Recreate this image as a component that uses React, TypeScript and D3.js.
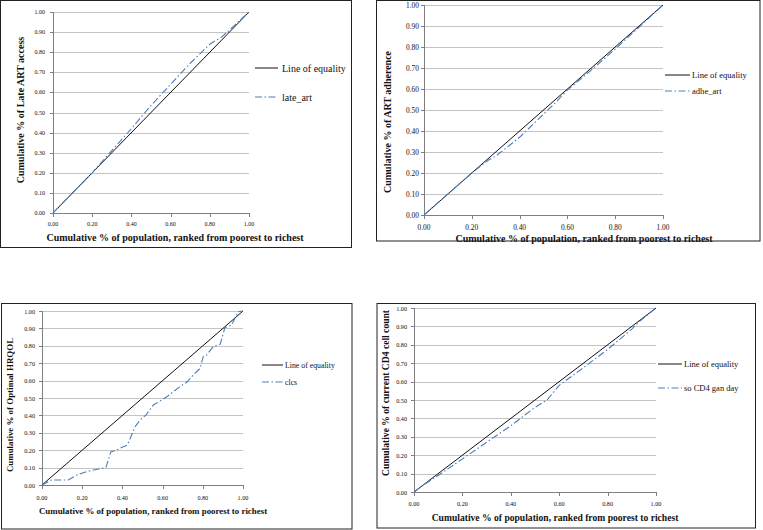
import React from "react";
import * as d3 from "d3";

// ---- Data ----
const xTickValues = [0, 0.2, 0.4, 0.6, 0.8, 1.0];
const yTickValues = [0, 0.1, 0.2, 0.3, 0.4, 0.5, 0.6, 0.7, 0.8, 0.9, 1.0];
const xTickLabels = ["0.00", "0.20", "0.40", "0.60", "0.80", "1.00"];
const yTickLabels = ["0.00", "0.10", "0.20", "0.30", "0.40", "0.50", "0.60", "0.70", "0.80", "0.90", "1.00"];

const equalityX = [0, 1];
const equalityY = [0, 1];

const lateArtX = [0, 0.1, 0.2, 0.3, 0.4, 0.5, 0.6, 0.7, 0.8, 0.86, 0.9, 1];
const lateArtY = [0, 0.1, 0.2, 0.31, 0.42, 0.535, 0.64, 0.745, 0.84, 0.875, 0.91, 1];

const adheArtX = [0, 0.1, 0.2, 0.27, 0.3, 0.4, 0.5, 0.55, 0.6, 0.7, 0.8, 0.9, 1];
const adheArtY = [0, 0.1, 0.2, 0.262, 0.28, 0.37, 0.48, 0.535, 0.595, 0.69, 0.79, 0.895, 1];

const clcsX = [0, 0.048, 0.131, 0.172, 0.222, 0.28, 0.318, 0.342, 0.363, 0.396, 0.425, 0.463, 0.488, 0.517, 0.554, 0.604, 0.628, 0.653, 0.703, 0.72, 0.753, 0.786, 0.803, 0.819, 0.852, 0.886, 0.91, 0.944, 0.96, 0.977, 1];
const clcsY = [0, 0.029, 0.029, 0.057, 0.077, 0.092, 0.1, 0.19, 0.197, 0.215, 0.23, 0.335, 0.374, 0.402, 0.46, 0.494, 0.513, 0.536, 0.579, 0.59, 0.632, 0.67, 0.741, 0.747, 0.795, 0.808, 0.904, 0.92, 0.958, 0.996, 1];

const cd4X = [0, 0.05, 0.1, 0.2, 0.3, 0.4, 0.5, 0.55, 0.6, 0.7, 0.8, 0.9, 0.93, 1];
const cd4Y = [0, 0.048, 0.09, 0.18, 0.27, 0.36, 0.46, 0.5, 0.58, 0.675, 0.775, 0.885, 0.925, 1];

const xTitle = "Cumulative % of population, ranked from poorest to richest";
const legendEquality = "Line of equality";

// ---- Layout (styles only) ----
type Panel = {
  frame: [number, number, number, number];
  plot: { l: number; r: number; t: number; b: number };
  tickFont: number;
  yTickGap: number;
  xTickBase: number;
  titleFont: number;
  xTitlePos: [number, number];
  yTitlePos: [number, number];
  yTitle: string;
  legend: { x1: number; x2: number; tx: number; y1: number; y2: number; font: number };
  seriesName: string;
  sx: number[];
  sy: number[];
};

const panels: Panel[] = [
  {
    frame: [0.5, 0.5, 351.5, 247.5],
    plot: { l: 53, r: 249, t: 12, b: 213 },
    tickFont: 6, yTickGap: 8, xTickBase: 226,
    titleFont: 10, xTitlePos: [175, 241], yTitlePos: [23.5, 110],
    yTitle: "Cumulative % of Late ART access",
    legend: { x1: 255, x2: 278, tx: 282, y1: 68, y2: 97, font: 10 },
    seriesName: "late_art", sx: lateArtX, sy: lateArtY,
  },
  {
    frame: [376.5, 0.5, 760, 241],
    plot: { l: 424, r: 663, t: 5, b: 215 },
    tickFont: 7.4, yTickGap: 5, xTickBase: 229.5,
    titleFont: 10, xTitlePos: [584, 241.5], yTitlePos: [390.5, 122],
    yTitle: "Cumulative % of ART adherence",
    legend: { x1: 665, x2: 690, tx: 692, y1: 75, y2: 91, font: 8.6 },
    seriesName: "adhe_art", sx: adheArtX, sy: adheArtY,
  },
  {
    frame: [1.5, 303.5, 352, 529],
    plot: { l: 42, r: 243, t: 311, b: 485 },
    tickFont: 6.2, yTickGap: 7, xTickBase: 499.5,
    titleFont: 8.9, xTitlePos: [153, 514], yTitlePos: [13, 405],
    yTitle: "Cumulative % of Optimal HRQOL",
    legend: { x1: 262, x2: 283, tx: 285, y1: 365, y2: 382, font: 7.8 },
    seriesName: "clcs", sx: clcsX, sy: clcsY,
  },
  {
    frame: [377, 303.5, 755.5, 528],
    plot: { l: 414, r: 656, t: 308, b: 492 },
    tickFont: 6.2, yTickGap: 7, xTickBase: 505.5,
    titleFont: 9.6, xTitlePos: [555, 520.5], yTitlePos: [388.5, 393],
    yTitle: "Cumulative % of current CD4 cell count",
    legend: { x1: 658, x2: 682, tx: 684, y1: 364, y2: 388, font: 8.5 },
    seriesName: "so CD4 gan day", sx: cd4X, sy: cd4Y,
  },
];

const FONT = "'Liberation Serif', 'Times New Roman', serif";
const BLUE = "#4a7ebb";
const DASH = "7,2.5,1.5,2.5";

function LorenzPanel({ p }: { p: Panel }) {
  const x = d3.scaleLinear().domain([0, 1]).range([p.plot.l, p.plot.r]);
  const y = d3.scaleLinear().domain([0, 1]).range([p.plot.b, p.plot.t]);
  const line = d3
    .line<[number, number]>()
    .x((d) => x(d[0]))
    .y((d) => y(d[1]));
  const eq = equalityX.map((v, i) => [v, equalityY[i]] as [number, number]);
  const ser = p.sx.map((v, i) => [v, p.sy[i]] as [number, number]);
  const [fx1, fy1, fx2, fy2] = p.frame;
  return (
    <g>
      <rect x={fx1} y={fy1} width={fx2 - fx1} height={fy2 - fy1} fill="#fff" stroke="#222" strokeWidth={1} />
      {yTickValues.slice(1).map((v) => (
        <line key={"g" + v} x1={p.plot.l} x2={p.plot.r} y1={Math.round(y(v)) + 0.5} y2={Math.round(y(v)) + 0.5} stroke="#c4c4c4" strokeWidth={1} />
      ))}
      <line x1={p.plot.l + 0.5} x2={p.plot.l + 0.5} y1={p.plot.t} y2={p.plot.b} stroke="#7f7f7f" strokeWidth={1} />
      <line x1={p.plot.l} x2={p.plot.r} y1={p.plot.b + 0.5} y2={p.plot.b + 0.5} stroke="#7f7f7f" strokeWidth={1} />
      {yTickValues.map((v) => (
        <line key={"yt" + v} x1={p.plot.l - 3} x2={p.plot.l} y1={Math.round(y(v)) + 0.5} y2={Math.round(y(v)) + 0.5} stroke="#7f7f7f" />
      ))}
      {xTickValues.map((v) => (
        <line key={"xt" + v} x1={Math.round(x(v)) + 0.5} x2={Math.round(x(v)) + 0.5} y1={p.plot.b} y2={p.plot.b + 4} stroke="#7f7f7f" />
      ))}
      {yTickValues.map((v, i) => (
        <text key={"yl" + v} x={p.plot.l - p.yTickGap} y={y(v)} textAnchor="end" dominantBaseline="central" fontSize={p.tickFont} fontFamily={FONT} fill="#111">
          {yTickLabels[i]}
        </text>
      ))}
      {xTickValues.map((v, i) => (
        <text key={"xl" + v} x={x(v)} y={p.xTickBase} textAnchor="middle" fontSize={p.tickFont} fontFamily={FONT} fill="#111">
          {xTickLabels[i]}
        </text>
      ))}
      <path d={line(eq) || ""} fill="none" stroke="#111" strokeWidth={1} />
      <path d={line(ser) || ""} fill="none" stroke={BLUE} strokeWidth={1.1} strokeDasharray={DASH} />
      <text x={p.xTitlePos[0]} y={p.xTitlePos[1]} textAnchor="middle" fontSize={p.titleFont} fontWeight="bold" fontFamily={FONT} fill="#111">
        {xTitle}
      </text>
      <text transform={`translate(${p.yTitlePos[0]},${p.yTitlePos[1]}) rotate(-90)`} textAnchor="middle" fontSize={p.titleFont} fontWeight="bold" fontFamily={FONT} fill="#111">
        {p.yTitle}
      </text>
      <line x1={p.legend.x1} x2={p.legend.x2} y1={p.legend.y1} y2={p.legend.y1} stroke="#111" strokeWidth={1} />
      <text x={p.legend.tx} y={p.legend.y1} dominantBaseline="central" fontSize={p.legend.font} fontFamily={FONT} fill="#111">
        {legendEquality}
      </text>
      <line x1={p.legend.x1} x2={p.legend.x2} y1={p.legend.y2} y2={p.legend.y2} stroke={BLUE} strokeWidth={1.1} strokeDasharray={DASH} />
      <text x={p.legend.tx} y={p.legend.y2} dominantBaseline="central" fontSize={p.legend.font} fontFamily={FONT} fill="#111">
        {p.seriesName}
      </text>
    </g>
  );
}

export default function App() {
  return (
    <svg width={763} height={530} style={{ position: "absolute", left: 0, top: 0, background: "#fff" }}>
      <rect x={0} y={0} width={763} height={530} fill="#fff" />
      {panels.map((p, i) => (
        <LorenzPanel key={i} p={p} />
      ))}
    </svg>
  );
}
